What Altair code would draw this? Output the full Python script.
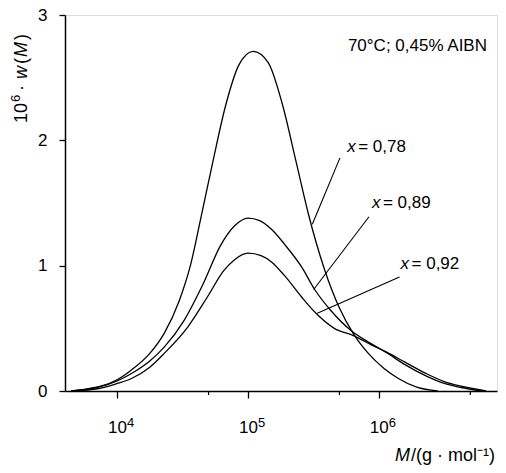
import altair as alt
import pandas as pd

# ---- data (log10 M, 10^6 w(M)) ----
logm_078 = [3.65, 3.76, 3.86, 4.00, 4.10, 4.25, 4.36, 4.475, 4.56, 4.64, 4.73, 4.83, 4.93, 5.04,
            5.155, 5.26, 5.37, 5.46, 5.585, 5.70, 5.81, 5.92, 6.04, 6.15, 6.29, 6.45]
w_078 = [0.0, 0.015, 0.035, 0.09, 0.16, 0.30, 0.46, 0.72, 1.00, 1.38, 1.82, 2.28, 2.60, 2.71,
         2.62, 2.30, 1.82, 1.42, 0.97, 0.66, 0.45, 0.30, 0.18, 0.10, 0.03, 0.0]

logm_089 = [3.65, 3.86, 4.00, 4.11, 4.25, 4.36, 4.51, 4.66, 4.79, 4.90, 5.00, 5.09, 5.18, 5.28,
            5.41, 5.51, 5.635, 5.79, 5.92, 6.06, 6.20, 6.36, 6.50, 6.62, 6.79]
w_089 = [0.0, 0.03, 0.08, 0.14, 0.24, 0.35, 0.56, 0.86, 1.16, 1.32, 1.38, 1.36, 1.29, 1.17,
         0.99, 0.81, 0.64, 0.48, 0.39, 0.305, 0.21, 0.12, 0.06, 0.03, 0.0]

logm_092 = [3.65, 3.86, 4.00, 4.11, 4.25, 4.36, 4.54, 4.69, 4.815, 4.90, 5.00, 5.10, 5.18, 5.28,
            5.41, 5.52, 5.66, 5.81, 5.94, 6.06, 6.20, 6.36, 6.50, 6.62, 6.82]
w_092 = [0.0, 0.02, 0.06, 0.10, 0.19, 0.30, 0.51, 0.75, 0.96, 1.05, 1.10, 1.08, 1.03, 0.92,
         0.75, 0.62, 0.50, 0.44, 0.37, 0.31, 0.23, 0.14, 0.075, 0.04, 0.0]

series_names = ["0,78", "0,89", "0,92"]

# leader lines (log10 M, w): start on curve -> end near label
lead_logm1 = [5.492, 5.502, 5.53]
lead_w1 = [1.33, 0.81, 0.62]
lead_logm2 = [5.703, 5.925, 6.158]
lead_w2 = [1.86, 1.39, 0.91]
# label anchors (log10 M, w)
lab_logm = [5.758, 5.947, 6.166]
lab_w = [1.91, 1.46, 0.976]

x_major = [1e4, 1e5, 1e6]
x_exponents = ["4", "5", "6"]
x_minor = [5e4, 5e5, 5e6]
y_ticks = [0, 1, 2, 3]
note_text = "70°C; 0,45% AIBN"

FONT = "Liberation Sans"
FS = 17
W, H = 432, 376

rows = []
for name, lm, ws in zip(series_names, [logm_078, logm_089, logm_092], [w_078, w_089, w_092]):
    for a, b in zip(lm, ws):
        rows.append({"series": name, "M": 10 ** a, "w": b})
curves = pd.DataFrame(rows)

leads = pd.DataFrame({
    "series": series_names,
    "M1": [10 ** v for v in lead_logm1], "w1": lead_w1,
    "M2": [10 ** v for v in lead_logm2], "w2": lead_w2,
})
labels = pd.DataFrame({
    "series": series_names,
    "M": [10 ** v for v in lab_logm], "w": lab_w,
    "rest": ["= " + s for s in series_names],
})
minor = pd.DataFrame({"M": x_minor})
exps = pd.DataFrame({"M": x_major, "e": x_exponents})

xscale = alt.Scale(type="log", domain=[4000, 8e6], nice=False)
yscale = alt.Scale(domain=[0, 3], nice=False)

lines = alt.Chart(curves).mark_line(color="black", strokeWidth=1.3, interpolate="monotone").encode(
    x=alt.X("M:Q", scale=xscale, title=None,
            axis=alt.Axis(values=x_major, labelExpr="'10'", tickSize=7, labelPadding=34,
                          labelBaseline="alphabetic",
                          labelFont=FONT, labelFontSize=FS, labelColor="black",
                          domainColor="black", tickColor="black", domainWidth=1.5, tickWidth=1.3,
                          grid=False)),
    y=alt.Y("w:Q", scale=yscale, title=None,
            axis=alt.Axis(values=y_ticks, format="d", tickSize=6, labelPadding=12, labelFont=FONT,
                          labelFontSize=FS, labelColor="black", domainColor="black",
                          tickColor="black", domainWidth=1.5, tickWidth=1.3, grid=False)),
    detail="series:N",
)

exp_marks = alt.Chart(exps).mark_text(font=FONT, fontSize=13, align="left", baseline="alphabetic",
                                      dx=10, color="black").encode(
    x=alt.X("M:Q", scale=xscale), y=alt.value(H + 36), text="e:N")

minor_ticks = alt.Chart(minor).mark_rule(color="black", strokeWidth=1.2).encode(
    x=alt.X("M:Q", scale=xscale),
    y=alt.value(H), y2=alt.value(H + 4),
)

lead_lines = alt.Chart(leads).mark_rule(color="black", strokeWidth=1.1).encode(
    x=alt.X("M1:Q", scale=xscale), y=alt.Y("w1:Q", scale=yscale),
    x2="M2:Q", y2="w2:Q",
)

lab_x = alt.Chart(labels).mark_text(font=FONT, fontSize=FS, fontStyle="italic", align="left",
                                    baseline="alphabetic", color="black").encode(
    x=alt.X("M:Q", scale=xscale), y=alt.Y("w:Q", scale=yscale), text=alt.value("x"))
lab_rest = alt.Chart(labels).mark_text(font=FONT, fontSize=FS, align="left", dx=11,
                                       baseline="alphabetic", color="black").encode(
    x=alt.X("M:Q", scale=xscale), y=alt.Y("w:Q", scale=yscale), text="rest:N")

note = alt.Chart(pd.DataFrame({"t": [note_text]})).mark_text(
    font=FONT, fontSize=FS, align="right", baseline="alphabetic", color="black").encode(
    x=alt.value(422), y=alt.value(36), text="t:N")

# x-axis title: M (italic) /(g·mol⁻¹)
xt1 = alt.Chart(pd.DataFrame({"t": ["M"]})).mark_text(
    font=FONT, fontSize=18, fontStyle="italic", align="left", baseline="alphabetic",
    color="black").encode(x=alt.value(330), y=alt.value(H + 70), text="t:N")
xt2 = alt.Chart(pd.DataFrame({"t": ["/(g · mol⁻¹)"]})).mark_text(
    font=FONT, fontSize=18, align="left", baseline="alphabetic", color="black").encode(
    x=alt.value(346), y=alt.value(H + 70), text="t:N")

# y-axis title: 10^6 · w(M), rotated
def ytxt(t, y, x=-38, size=18, style="normal", align="left"):
    return alt.Chart(pd.DataFrame({"t": [t]})).mark_text(
        font=FONT, fontSize=size, fontStyle=style, align=align, baseline="alphabetic",
        angle=270, color="black").encode(x=alt.value(x), y=alt.value(y), text="t:N")

yt = [
    ytxt("10", 108),
    ytxt("6", 87, x=-45, size=13),
    ytxt("·", 73, align="center"),
    ytxt("w", 64, style="italic"),
    ytxt("(", 49),
    ytxt("M", 42, style="italic"),
    ytxt(")", 25),
]

chart = alt.layer(lines, exp_marks, minor_ticks, lead_lines, lab_x, lab_rest, note, xt1, xt2, *yt).properties(
    width=W, height=H,
    autosize=alt.AutoSizeParams(type="none"),
    padding={"left": 57, "top": 7, "right": 1, "bottom": 74},
).configure_view(stroke="black", strokeWidth=1.5).configure(background="white")

chart.save("out.html", embed_options={"renderer": "svg", "actions": False})
